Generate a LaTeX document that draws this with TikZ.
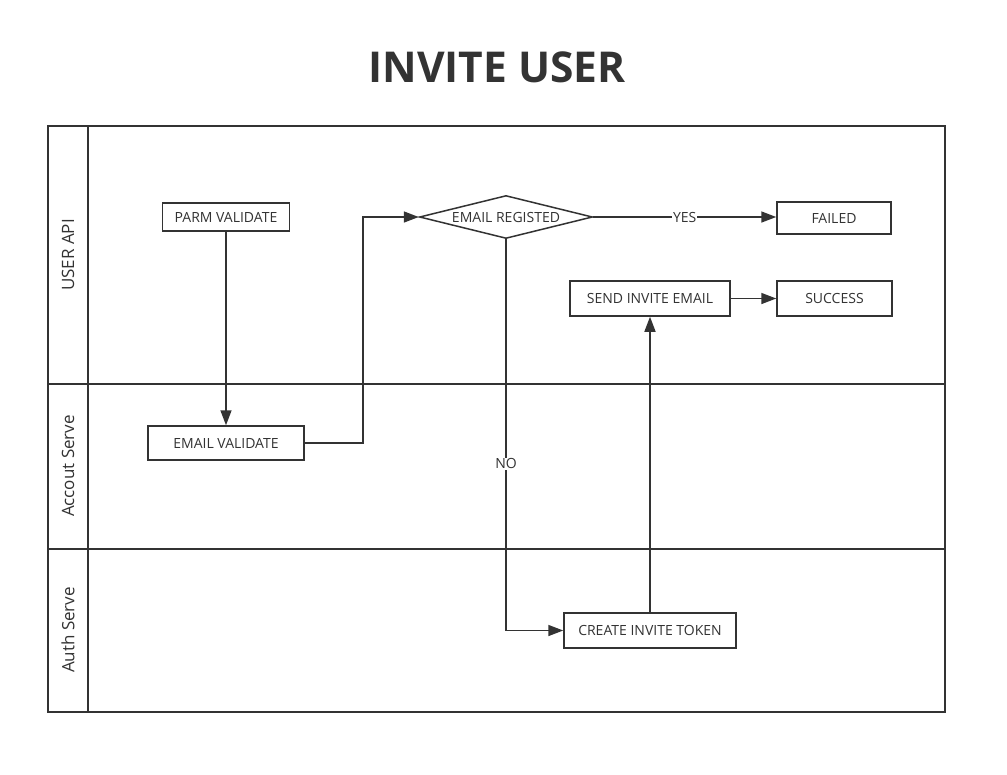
\documentclass[tikz,border=0pt]{standalone}
\usepackage{fontspec}
\setmainfont{Open Sans}
\usetikzlibrary{shapes,arrows.meta,positioning,calc}
\definecolor{ink}{HTML}{333333}

\begin{document}
\begin{tikzpicture}[x=1pt, y=-1pt, draw=ink, text=ink, line width=1.5pt,
        stepbox/.style={rectangle, draw=ink, line width=1.5pt, fill=white, inner sep=0pt, font=\fontsize{14}{16}\selectfont},
        decision/.style={diamond, draw=ink, line width=1.5pt, fill=white, aspect=4, inner sep=0pt, font=\fontsize{14}{16}\selectfont},
        lane/.style={rotate=90, font=\fontsize{17}{19}\selectfont},
        flow/.style={draw=ink, line width=1.6pt, -{Triangle[length=15pt,width=11pt]}},
        answer/.style={fill=white, inner sep=1pt, font=\fontsize{14}{16}\selectfont}]
        \useasboundingbox (0,0) rectangle (1007,774);
        \fill[white] (0,0) rectangle (1007,774);

        \node (title) at (497,67) {\fontsize{42.5}{48}\selectfont\bfseries INVITE USER};

        % Swimlanes
        \draw (48,126) rectangle (945,712);
        \draw (88,126) -- (88,712);
        \draw (48,384) -- (945,384);
        \draw (48,549) -- (945,549);
        \node (userapi) [lane] at (68,255) {USER API};
        \node (accout) [lane] at (68,466) {Accout Serve};
        \node (auth) [lane] at (68,630) {Auth Serve};

        % Steps
        \node (parm) [stepbox, minimum width=127, minimum height=28] at (226,217) {PARM VALIDATE};
        \node (emailval) [stepbox, minimum width=156, minimum height=34] at (226,443) {EMAIL VALIDATE};
        \node (reg) [decision, minimum width=173, minimum height=43] at (506,217) {EMAIL REGISTED};
        \node (failed) [stepbox, minimum width=114, minimum height=32] at (834,218) {FAILED};
        \node (send) [stepbox, minimum width=160, minimum height=35] at (650,298.5) {SEND INVITE EMAIL};
        \node (success) [stepbox, minimum width=115, minimum height=35] at (834.5,298.5) {SUCCESS};
        \node (token) [stepbox, minimum width=172, minimum height=35] at (650,630.5) {CREATE INVITE TOKEN};

        \draw[flow] (parm) -- (emailval);
        \draw[flow] (emailval.east) -- ++(58,0) |- (reg.west);
        \draw[flow] (reg.east) -- node[answer] {YES} (reg.east -| failed.west);
        \draw[flow] (reg.south) |- node[answer, pos=0.287] {NO} (token.west);
        \draw[flow] (token) -- (send);
        \draw[flow] (send) -- (success);
\end{tikzpicture}
\end{document}
